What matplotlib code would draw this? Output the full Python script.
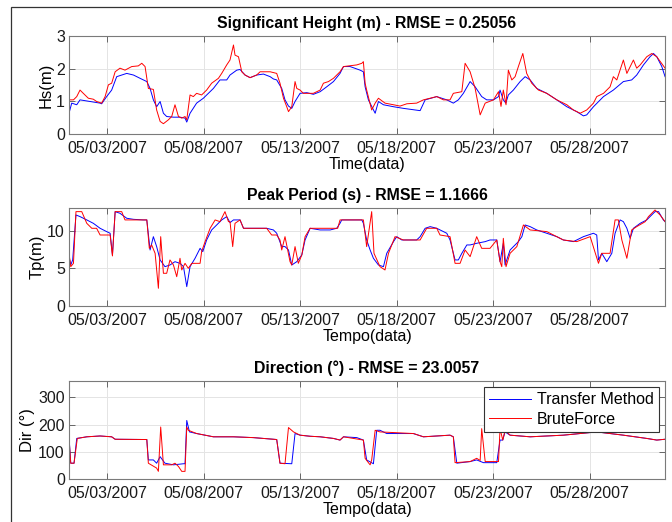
import matplotlib

matplotlib.use("Agg")
import matplotlib.pyplot as plt
import matplotlib.dates as mdates
from matplotlib.patches import Rectangle
import numpy as np
import pandas as pd

plt.rcParams["font.family"] = ["Liberation Sans", "DejaVu Sans"]

# %%
# Series: (days since 2007-05-01 00:00, value)

start = pd.Timestamp("2007-05-01")

hs_transfer_t = [0.03, 0.17, 0.43, 0.60, 1.12, 1.64, 1.72, 1.98, 2.24, 2.50, 3.02, 3.37, 3.71, 4.06, 4.23, 4.40, 4.57, 4.75, 4.92, 5.09, 5.44, 5.78, 6.04, 6.13, 6.30, 6.64, 6.99, 7.25, 7.51, 7.85, 8.20, 8.37, 8.72, 8.89, 9.15, 9.41, 9.75, 10.10, 10.45, 10.62, 10.79, 11.05, 11.22, 11.40, 11.57, 11.74, 12.00, 12.35, 12.69, 13.04, 13.38, 13.73, 14.07,
                 14.25, 14.59, 15.11, 15.28, 15.37, 15.54, 15.89, 16.06, 16.32, 16.84, 17.35, 18.22, 18.48, 19.08, 19.60, 19.94, 20.20, 20.46, 20.81, 21.07, 21.41, 21.67, 22.02, 22.28, 22.36, 22.53, 22.66, 22.79, 23.05, 23.40, 23.66, 23.92, 24.26, 24.78, 25.30, 25.82, 26.33, 26.68, 26.85, 27.20, 27.72, 28.23, 28.75, 29.18, 29.44, 29.79, 30.13, 30.31, 30.48, 30.74, 30.91]
hs_transfer = [0.64, 0.95, 0.90, 1.05, 1.00, 0.95, 0.93, 1.15, 1.35, 1.76, 1.86, 1.81, 1.71, 1.61, 1.40, 1.05, 0.84, 1.00, 0.64, 0.54, 0.52, 0.52, 0.49, 0.37, 0.64, 0.95, 1.10, 1.25, 1.40, 1.66, 1.66, 1.81, 1.96, 1.98, 1.81, 1.73, 1.81, 1.84, 1.76, 1.69, 1.66, 1.40, 1.05, 0.86, 0.79, 1.00, 1.25, 1.27, 1.22, 1.30, 1.45, 1.61, 1.86,
               2.07, 2.07, 1.96, 1.91, 1.45, 1.05, 0.64, 1.00, 0.90, 0.84, 0.79, 0.72, 1.05, 1.15, 1.05, 0.95, 1.05, 1.25, 1.61, 1.45, 1.15, 1.05, 1.05, 1.15, 1.35, 1.05, 0.95, 1.20, 1.35, 1.61, 1.76, 1.66, 1.40, 1.25, 1.05, 0.84, 0.69, 0.56, 0.59, 0.84, 1.15, 1.35, 1.61, 1.66, 1.81, 2.12, 2.37, 2.47, 2.37, 2.07, 1.76]

hs_brute_t = [0.03, 0.26, 0.43, 0.60, 0.77, 1.03, 1.29, 1.46, 1.72, 1.90, 2.07, 2.24, 2.42, 2.67, 2.93, 3.28, 3.62, 3.80, 3.97, 4.14, 4.40, 4.57, 4.75, 4.92, 5.18, 5.35, 5.52, 5.70, 5.87, 6.04, 6.13, 6.30, 6.47, 6.64, 6.90, 7.16, 7.42, 7.77, 7.94, 8.20, 8.37, 8.55, 8.63, 8.81, 8.98, 9.15, 9.41, 9.75, 9.93, 10.45, 10.79, 10.96, 11.14, 11.31, 11.40, 11.57, 11.74, 11.83, 12.00, 12.17, 12.69, 13.04, 13.21, 13.47, 13.73, 14.07,
              14.25, 14.94, 15.20, 15.28, 15.37, 15.45, 15.71, 15.89, 16.06, 16.40, 16.84, 17.18, 17.53, 18.04, 18.39, 18.74, 19.08, 19.43, 19.77, 19.94, 20.38, 20.55, 20.81, 21.07, 21.33, 21.59, 22.02, 22.28, 22.41, 22.53, 22.67, 22.79, 22.97, 23.14, 23.31, 23.54, 23.74, 24.00, 24.35, 24.78, 25.30, 25.82, 26.16, 26.51, 26.85, 27.20, 27.37, 27.72, 28.06, 28.23, 28.41, 28.75, 28.93, 29.27, 29.44, 29.62, 29.96, 30.22, 30.48, 30.91]
hs_brute = [1.05, 1.05, 1.15, 1.35, 1.25, 1.10, 1.07, 1.00, 0.95, 1.15, 1.51, 1.56, 1.91, 2.02, 1.96, 2.07, 2.09, 2.17, 2.07, 1.40, 1.37, 0.74, 0.39, 0.32, 0.44, 0.54, 0.90, 0.54, 0.49, 0.54, 0.44, 1.20, 1.15, 1.25, 1.20, 1.35, 1.56, 1.71, 1.86, 2.12, 2.27, 2.73, 2.42, 2.37, 1.91, 1.81, 1.73, 1.81, 1.91, 1.91, 1.86, 1.56, 1.10, 0.84, 0.69, 0.84, 1.61, 1.40, 1.35, 1.25, 1.25, 1.35, 1.56, 1.61, 1.71, 1.91,
            2.07, 2.12, 2.17, 2.22, 1.56, 1.35, 0.74, 0.95, 1.10, 0.95, 0.90, 0.86, 0.93, 0.95, 1.05, 1.10, 1.15, 1.05, 1.05, 1.25, 1.30, 2.17, 1.91, 1.40, 0.59, 0.95, 1.05, 1.30, 0.85, 1.35, 0.90, 1.96, 1.66, 1.76, 2.07, 2.47, 1.86, 1.56, 1.35, 1.25, 1.05, 0.90, 0.74, 0.64, 0.74, 0.95, 1.15, 1.25, 1.45, 1.76, 1.66, 2.27, 1.86, 2.27, 2.02, 2.12, 2.37, 2.47, 2.37, 2.02]

tp_transfer_t = [0.03, 0.12, 0.22, 0.39, 0.60, 0.95, 1.29, 1.64, 1.98, 2.16, 2.28, 2.42, 2.67, 3.02, 3.37, 3.88, 4.06, 4.23, 4.40, 4.57, 4.75, 5.00, 5.26, 5.52, 5.78, 5.96, 6.13, 6.30, 6.56, 6.82, 6.96, 7.16, 7.42, 7.68, 7.94, 8.20, 8.37, 8.55, 8.89, 9.07, 9.58, 10.27, 10.62, 10.79, 11.05, 11.22, 11.40, 11.57, 11.83, 12.09, 12.26, 12.52, 13.04, 13.56, 13.90, 14.07,
                 14.16, 15.20, 15.28, 15.45, 15.63, 15.80, 16.06, 16.32, 16.49, 16.84, 17.01, 17.27, 18.04, 18.22, 18.48, 18.74, 19.08, 19.60, 19.77, 20.03, 20.20, 20.38, 20.64, 20.81, 21.15, 21.59, 21.84, 22.19, 22.36, 22.53, 22.62, 22.88, 23.31, 23.49, 23.66, 23.92, 24.26, 24.78, 25.30, 25.64, 26.16, 26.68, 27.20, 27.37, 27.46, 27.63, 27.89, 28.15, 28.32, 28.58, 28.75, 28.93, 29.10, 29.27, 29.62, 29.96, 30.13, 30.39, 30.57, 30.82, 30.91]
tp_transfer = [6.55, 5.44, 6.11, 12.08, 11.86, 11.42, 10.97, 10.31, 9.87, 9.65, 6.77, 12.52, 12.30, 11.64, 11.50, 11.42, 11.42, 7.43, 9.20, 7.88, 6.11, 5.22, 5.44, 5.88, 5.66, 5.22, 2.57, 5.22, 6.33, 7.65, 7.21, 8.76, 10.09, 10.75, 11.42, 11.86, 11.06, 11.42, 11.42, 10.31, 10.31, 10.31, 10.09, 9.65, 7.88, 7.88, 7.43, 5.44, 5.88, 6.77, 8.76, 10.31, 10.09, 10.09, 10.31, 10.97,
               11.42, 11.42, 10.97, 8.76, 7.43, 6.33, 5.44, 5.22, 6.99, 8.54, 9.20, 8.76, 8.76, 9.20, 10.31, 10.53, 10.31, 9.65, 8.76, 6.11, 6.11, 6.99, 8.10, 8.10, 8.32, 8.54, 8.76, 8.76, 5.88, 8.32, 5.44, 7.43, 8.54, 9.20, 10.75, 10.53, 10.09, 9.65, 9.20, 8.76, 8.54, 9.20, 9.65, 9.42, 6.11, 6.99, 5.88, 6.99, 9.65, 11.42, 11.19, 10.31, 8.98, 10.31, 10.97, 11.42, 11.86, 12.52, 12.52, 11.42, 11.19]

tp_brute_t = [0.03, 0.12, 0.26, 0.39, 0.69, 0.95, 1.21, 1.46, 1.64, 2.16, 2.28, 2.42, 2.76, 2.93, 4.06, 4.19, 4.31, 4.49, 4.66, 4.78, 4.92, 5.09, 5.26, 5.44, 5.61, 5.78, 5.87, 6.04, 6.21, 6.39, 6.82, 6.90, 7.08, 7.34, 7.60, 7.85, 8.11, 8.29, 8.37, 8.51, 8.63, 8.89, 9.07, 10.27, 10.53, 10.79, 10.96, 11.05, 11.22, 11.48, 11.57, 11.74, 11.91, 12.09, 12.26, 12.52, 13.95,
              14.07, 15.28, 15.45, 15.71, 15.83, 16.14, 16.40, 16.58, 16.92, 17.35, 18.22, 18.56, 19.08, 19.25, 19.77, 20.03, 20.29, 20.55, 20.81, 21.15, 21.41, 21.84, 22.19, 22.36, 22.45, 22.53, 22.67, 22.88, 23.23, 23.57, 23.92, 24.78, 25.64, 26.33, 27.03, 27.46, 27.63, 28.06, 28.32, 28.49, 28.67, 28.93, 29.18, 29.44, 29.88, 30.05, 30.39, 30.65, 30.91]
tp_brute = [6.99, 5.22, 5.66, 12.52, 12.52, 10.97, 10.31, 10.31, 9.42, 9.42, 6.64, 12.52, 12.52, 11.42, 11.42, 7.65, 8.10, 6.99, 2.35, 9.20, 4.34, 4.34, 6.11, 5.44, 3.89, 6.33, 4.78, 5.66, 5.00, 5.66, 5.66, 7.21, 8.54, 10.31, 11.42, 11.19, 12.52, 11.19, 11.19, 7.88, 10.97, 11.42, 10.31, 10.31, 9.42, 9.42, 8.76, 7.43, 9.20, 5.88, 5.44, 7.88, 5.66, 6.77, 9.20, 10.31, 10.31,
            11.42, 11.42, 7.88, 12.52, 6.99, 5.22, 4.78, 6.99, 9.20, 8.76, 8.76, 10.31, 10.31, 9.42, 9.20, 5.66, 5.66, 7.43, 6.55, 9.20, 7.65, 7.65, 8.76, 5.88, 5.22, 8.98, 5.22, 6.99, 7.88, 10.75, 10.09, 9.87, 8.76, 8.54, 9.20, 5.66, 6.99, 6.99, 11.42, 11.42, 8.76, 6.33, 10.09, 10.53, 11.19, 11.86, 12.74, 12.08, 11.19]

dir_transfer_t = [0.03, 0.12, 0.29, 0.43, 0.95, 1.64, 2.24, 2.42, 4.06, 4.14, 4.40, 4.57, 4.75, 5.00, 5.44, 5.96, 6.04, 6.13, 6.27, 6.64, 7.51, 8.55, 9.58, 10.79, 10.96, 11.57, 11.74, 12.00, 12.52, 13.04, 13.73, 14.07,
                  14.25, 14.94, 15.28, 15.45, 15.80, 15.97, 16.14, 16.49, 17.87, 18.39, 19.77, 19.94, 20.12, 20.81, 21.15, 21.50, 22.19, 22.36, 22.50, 22.62, 22.88, 23.92, 25.64, 27.37, 28.06, 28.75, 29.96, 30.48, 30.91]
dir_transfer = [155, 58, 58, 149, 155, 158, 155, 146, 145, 70, 70, 58, 82, 58, 52, 56, 56, 215, 173, 167, 155, 155, 152, 145, 58, 56, 167, 161, 157, 155, 149, 143,
                155, 152, 143, 70, 56, 179, 179, 167, 167, 155, 161, 155, 58, 64, 70, 60, 60, 143, 143, 173, 161, 155, 161, 173, 167, 161, 149, 143, 146]

dir_brute_t = [0.03, 0.12, 0.29, 0.46, 0.95, 1.64, 2.24, 2.42, 4.06, 4.14, 4.57, 4.66, 4.78, 4.92, 5.35, 5.52, 5.70, 5.87, 6.04, 6.13, 6.21, 6.64, 7.51, 8.55, 9.58, 10.79, 10.96, 11.22, 11.40, 11.66, 12.00, 12.52, 13.04, 13.73, 14.07,
               14.25, 15.28, 15.37, 15.54, 15.63, 15.71, 15.89, 16.14, 17.87, 18.39, 19.77, 19.94, 20.03, 20.81, 21.15, 21.33, 21.41, 21.59, 22.28, 22.36, 22.50, 22.62, 22.88, 23.92, 25.64, 27.37, 28.06, 28.75, 29.96, 30.48, 30.91]
dir_brute = [149, 58, 58, 149, 155, 158, 155, 146, 145, 58, 40, 28, 191, 52, 52, 58, 46, 28, 28, 191, 179, 167, 155, 155, 152, 145, 58, 56, 189, 173, 161, 157, 155, 149, 143,
             155, 143, 76, 60, 52, 70, 179, 173, 167, 155, 161, 155, 60, 64, 76, 68, 185, 64, 64, 185, 143, 179, 161, 155, 161, 173, 167, 161, 149, 143, 146]

titles = [
    "Significant Height (m) - RMSE = 0.25056",
    "Peak Period (s) - RMSE = 1.1666",
    "Direction (\u00b0) - RMSE = 23.0057",
]
ylabels = ["Hs(m)", "Tp(m)", "Dir (\u00b0)"]
xlabels = ["Time(data)", "Tempo(data)", "Tempo(data)"]
yticks = [[0, 1, 2, 3], [0, 5, 10], [0, 100, 200, 300]]
ylims = [(0, 3), (0, 13), (0, 360)]
tick_days = ["2007-05-03", "2007-05-08", "2007-05-13", "2007-05-18", "2007-05-23", "2007-05-28"]


def to_dates(days):
    return start + pd.to_timedelta(np.asarray(days), unit="D")


series = [
    (hs_transfer_t, hs_transfer, hs_brute_t, hs_brute),
    (tp_transfer_t, tp_transfer, tp_brute_t, tp_brute),
    (dir_transfer_t, dir_transfer, dir_brute_t, dir_brute),
]

# %%
# Figure with three stacked panels

fig = plt.figure(figsize=(6.72, 5.22), dpi=100)
fig.patch.set_facecolor("white")

# outer frame (runs off the right and bottom edges)
fig.patches.append(
    Rectangle((11 / 672, -0.05), 1.1, 1 - 7 / 522 + 0.05, transform=fig.transFigure,
              fill=False, edgecolor="#333333", linewidth=0.9)
)

bottoms = [0.743, 0.4138, 0.0824]
axes = []
for i, b in enumerate(bottoms):
    ax = fig.add_axes([0.1027, b, 0.887, 0.1877])
    axes.append(ax)
    t1, v1, t2, v2 = series[i]
    ax.plot(to_dates(t1), v1, color="#0000ff", linewidth=0.7, label="Transfer Method")
    ax.plot(to_dates(t2), v2, color="#ff0000", linewidth=0.7, label="BruteForce")

    ax.set_xlim(to_dates([0.03])[0], to_dates([30.91])[0])
    ax.set_ylim(*ylims[i])
    ax.set_yticks(yticks[i])
    ax.set_xticks(pd.to_datetime(tick_days))
    ax.xaxis.set_major_formatter(mdates.DateFormatter("%m/%d/%Y"))
    ax.grid(True, color="#e4e4e4", linewidth=0.7)
    ax.set_axisbelow(True)
    ax.tick_params(direction="in", length=4, width=0.7, top=True, right=True,
                   labelsize=11.5, colors="#666666", labelcolor="#1a1a1a")
    ax.tick_params(axis="x", pad=5)
    ax.tick_params(axis="y", pad=3)
    for sp in ax.spines.values():
        sp.set_color("#7a7a7a")
        sp.set_linewidth(0.8)

    ax.set_title(titles[i], fontsize=11.4, fontweight="bold", pad=6)
    ax.set_ylabel(ylabels[i], fontsize=12, labelpad=2)
    ax.set_xlabel(xlabels[i], fontsize=11.5, labelpad=1)

leg = axes[2].legend(loc="upper right", fontsize=11.5, handlelength=2.6, borderaxespad=0.4,
                     fancybox=False, framealpha=1, edgecolor="#333333", borderpad=0.3,
                     labelspacing=0.3, handletextpad=0.4)
leg.get_frame().set_linewidth(0.8)

fig.savefig("out.png", dpi=100)
